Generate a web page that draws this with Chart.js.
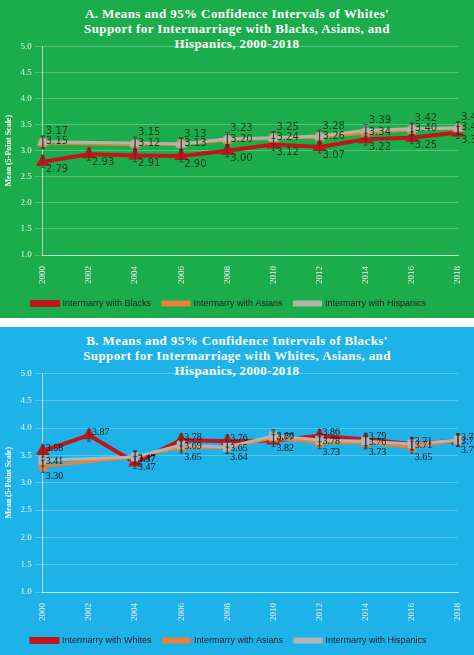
<!DOCTYPE html>
<html><head>
<script src="https://cdn.jsdelivr.net/npm/chart.js@4"></script>
<style>
body{margin:0;background:#fff;width:474px;height:655px;overflow:hidden}
.panel{position:absolute;left:0;width:474px}
#pa{top:0;height:318px;background:#1bad4b}
#pb{top:327px;height:328px;background:#1db2e8}
h2{margin:0;padding-top:6px;text-align:center;color:#fff;font:bold 13px "Liberation Serif",serif;line-height:15px;letter-spacing:.4px}
.cw{position:absolute;left:0;right:0;bottom:0}
</style></head><body>
<div class="panel" id="pa"><h2>A. Means and 95% Confidence Intervals of Whites'<br>Support for Intermarriage with Blacks, Asians, and<br>Hispanics, 2000-2018</h2>
<div class="cw" style="top:38px"><canvas id="ca"></canvas></div></div>
<div class="panel" id="pb"><h2>B. Means and 95% Confidence Intervals of Blacks'<br>Support for Intermarriage with Whites, Asians, and<br>Hispanics, 2000-2018</h2>
<div class="cw" style="top:38px"><canvas id="cb"></canvas></div></div>
<script>
const years = ['2000','2002','2004','2006','2008','2010','2012','2014','2016','2018'];
const yTicks = [1.0,1.5,2.0,2.5,3.0,3.5,4.0,4.5,5.0];
const aBlacks = [2.79,2.93,2.91,2.90,3.00,3.12,3.07,3.22,3.25,3.35];
const aAsians = [3.15,null,3.12,3.13,3.20,3.24,3.26,3.34,3.40,3.43];
const aHispanics = [3.17,null,3.15,3.13,3.23,3.25,3.28,3.39,3.42,3.44];
const bWhites = [3.58,3.87,3.37,3.78,3.76,3.77,3.86,3.79,3.71,3.77];
const bAsians = [3.30,null,3.47,3.65,3.64,3.82,3.73,3.73,3.65,3.78];
const bHispanics = [3.41,null,3.47,3.69,3.65,3.86,3.78,3.76,3.71,3.78];

const valueLabels = {
  id:'valueLabels',
  afterDatasetsDraw(chart){
    const ctx = chart.ctx;
    ctx.save();
    ctx.font = chart.options.labelFont;
    ctx.fillStyle = chart.options.labelColor;
    ctx.textBaseline = 'middle';
    chart.data.datasets.forEach((ds,i)=>{
      chart.getDatasetMeta(i).data.forEach((pt,j)=>{
        const v = ds.data[j]; if(v==null) return;
        const x = pt.x, y = pt.y;
        ctx.strokeStyle='#333';ctx.lineWidth=0.8;
        ctx.beginPath();ctx.moveTo(x,y-6);ctx.lineTo(x,y+6);
        ctx.moveTo(x-2,y-6);ctx.lineTo(x+2,y-6);ctx.moveTo(x-2,y+6);ctx.lineTo(x+2,y+6);ctx.stroke();
        ctx.fillText(v.toFixed(2), x + 3, y + ds.labelDy);
      });
    });
    ctx.restore();
  }
};

function makeChart(id, names, series, colors, shapes, dys, font, color){
  new Chart(document.getElementById(id), {
    type:'line',
    data:{labels:years, datasets:series.map((s,i)=>({
      label:names[i], data:s, borderColor:colors[i], backgroundColor:colors[i],
      borderWidth:i==0?4:3, pointStyle:shapes[i], pointRadius:4, spanGaps:true, labelDy:dys[i]
    })).reverse()},
    options:{
      responsive:true, maintainAspectRatio:false, animation:false,
      labelFont:font, labelColor:color,
      layout:{padding:{right:16,top:4}},
      scales:{
        y:{min:1,max:5,afterBuildTicks:a=>{a.ticks=yTicks.map(v=>({value:v}))},
          ticks:{color:'#e8f3ee',font:{size:9,family:'Liberation Serif'},callback:v=>v.toFixed(1)},
          grid:{color:'rgba(255,255,255,0.25)'},border:{color:'rgba(255,255,255,0.6)'},
          title:{display:true,text:'Mean (5-Point Scale)',color:'#fff',font:{size:8,weight:'bold',family:'Liberation Serif'}}},
        x:{offset:false,ticks:{color:'#eee',maxRotation:90,minRotation:90,font:{size:9,family:'Liberation Serif'}},
          grid:{display:false},border:{color:'rgba(255,255,255,0.6)'}}
      },
      plugins:{legend:{position:'bottom',reverse:true,labels:{color:'#222',font:{size:9},boxWidth:26,boxHeight:3,padding:12}}}
    },
    plugins:[valueLabels]
  });
}
makeChart('ca',['Intermarry with Blacks','Intermarry with Asians','Intermarry with Hispanics'],
  [aBlacks,aAsians,aHispanics],['#c0151b','#e8823a','#b4b4a8'],['triangle','rect','triangle'],[8,-1,-10],
  '10px "DejaVu Sans"','#1a3a1a');
makeChart('cb',['Intermarry with Whites','Intermarry with Asians','Intermarry with Hispanics'],
  [bWhites,bAsians,bHispanics],['#c0151b','#e8823a','#b4b4b4'],['triangle','rect','rect'],[-3,10,1],
  '10px "Liberation Serif"','#111');
</script>
</body></html>
